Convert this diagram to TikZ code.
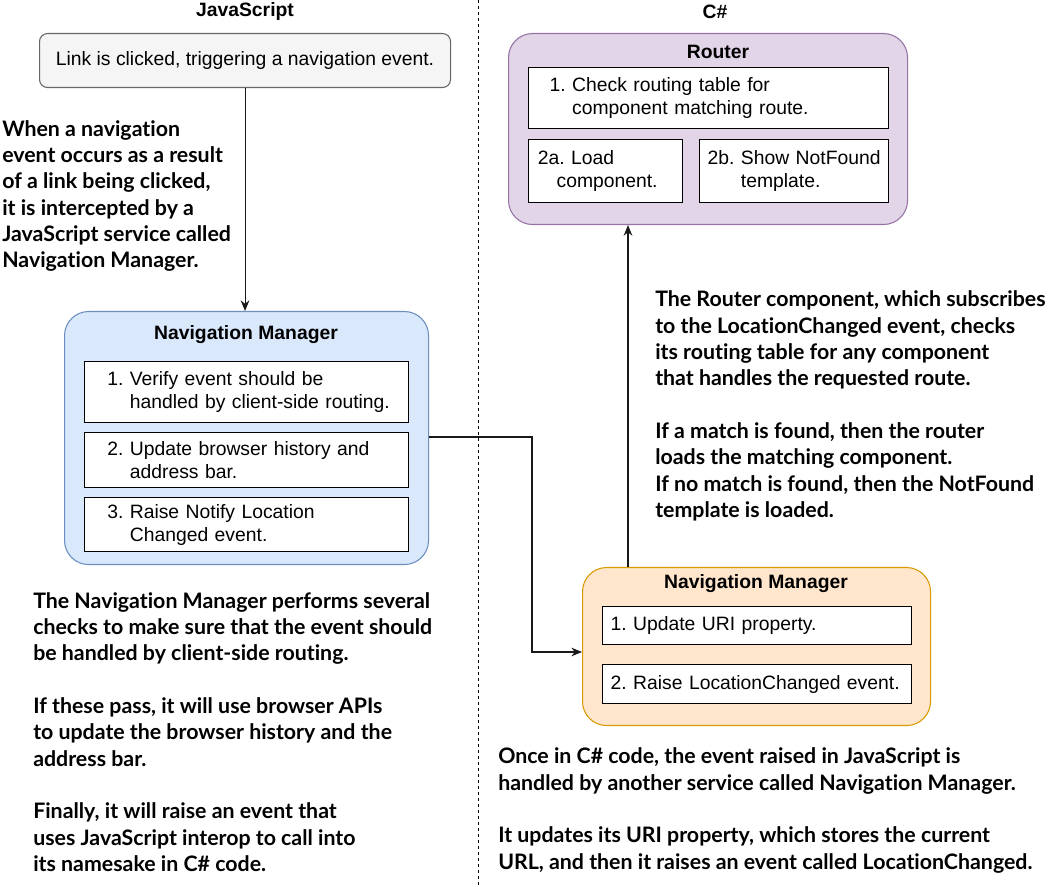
\documentclass[tikz,border=0pt]{standalone}
\usepackage{fontspec}
\setmainfont{Liberation Sans}
\newfontfamily\notefont[Ligatures=NoCommon]{Lato}
\usepackage{tikz}
\usetikzlibrary{arrows.meta}
\usetikzlibrary{positioning}
\definecolor{nm-link}{HTML}{F5F5F5}
\definecolor{nm-link-line}{HTML}{666666}
\definecolor{nm-blue}{HTML}{DAE8FC}
\definecolor{nm-blue-line}{HTML}{6C8EBF}
\definecolor{nm-orange}{HTML}{FFE6CC}
\definecolor{nm-orange-line}{HTML}{D79B00}
\definecolor{nm-purple}{HTML}{E1D5E7}
\definecolor{nm-purple-line}{HTML}{9673A6}
\newcommand{\itemfont}{\frenchspacing\hyphenpenalty=10000\fontsize{14.5}{17.25}\selectfont}
\newcommand{\notesize}{\frenchspacing\notefont\bfseries\fontsize{16}{19.75}\selectfont}

\begin{document}
\begin{tikzpicture}[x=0.75pt, y=-0.75pt, >={Stealth[length=8pt,width=6.5pt]},
    lane/.style={font=\itemfont\bfseries, inner sep=0pt},
    paneltitle/.style={font=\itemfont\bfseries, inner sep=0pt},
    panel/.style={rounded corners=18pt, line width=0.8pt, anchor=north west},
    item/.style={draw=black, fill=white, line width=0.9pt, align=left, font=\itemfont,
        anchor=north west, inner ysep=0pt},
    note/.style={font=\notesize, align=left, anchor=west, inner sep=0pt},
    conn/.style={draw=black!90, line width=0.8pt},
    divider/.style={draw=black, line width=0.75pt, dash pattern=on 2.5pt off 2pt}]
    \path[use as bounding box, fill=white] (0,0) rectangle (1054,887);

    % Lanes
    \node[lane] (jslane) at (245,12) {JavaScript};
    \node[lane] (cslane) at (715,12) {C\#};
    \coordinate (divtop) at (478,0);
    \coordinate (divbot) at (478,887);
    \draw[divider] (divtop) -- (divbot);

    % Link clicked
    \node[draw=nm-link-line, fill=nm-link, rounded corners=6pt, line width=0.8pt, font=\itemfont,
        anchor=north west, minimum width=308.25pt, minimum height=40.5pt] (link) at (39,33)
        {Link is clicked, triggering a navigation event.};

    % Navigation Manager (JavaScript)
    \node[panel, draw=nm-blue-line, fill=nm-blue, minimum width=273pt, minimum height=189.75pt] (jsmgr) at (64,311) {};
    \node[paneltitle] (jsmgrtitle) at (246,335) {Navigation Manager};
    \node[item, text width=217pt, inner xsep=13pt, minimum height=45.75pt] (jsverify) at (84,361)
        {\hspace{4pt}1. Verify event should be\\\hspace{4pt}\hphantom{1.\ }handled by client-side routing.};
    \node[item, text width=217pt, inner xsep=13pt, minimum height=41.25pt] (jshistory) at (84,432)
        {\hspace{4pt}2. Update browser history and\\\hspace{4pt}\hphantom{2.\ }address bar.};
    \node[item, text width=217pt, inner xsep=13pt, minimum height=40.5pt] (jsraise) at (84,497)
        {\hspace{4pt}3. Raise Notify Location\\\hspace{4pt}\hphantom{3.\ }Changed event.};

    % Router (C#)
    \node[panel, draw=nm-purple-line, fill=nm-purple, minimum width=299.25pt, minimum height=143.25pt] (router) at (508,33) {};
    \node[paneltitle] (routertitle) at (718,52) {Router};
    \node[item, text width=238.5pt, inner xsep=15.75pt, minimum height=45.75pt] (rcheck) at (528,67)
        {1. Check routing table for\\\hphantom{1.\ }component matching route.};
    \node[item, text width=105.5pt, inner xsep=5pt, minimum height=47.25pt] (rload) at (528,139)
        {\hspace{2pt}2a. Load\\\hspace{16pt}component.};
    \node[item, text width=133.75pt, inner xsep=4pt, minimum height=47.25pt] (rnotfound) at (699,139)
        {\hspace{2pt}2b. Show NotFound\\\hspace{2pt}\hphantom{2b.\ }template.};

    % Navigation Manager (C#)
    \node[panel, draw=nm-orange-line, fill=nm-orange, minimum width=261pt, minimum height=118.5pt] (omgr) at (582,567) {};
    \node[paneltitle] (omgrtitle) at (756,584) {Navigation Manager};
    \node[item, text width=219.75pt, inner xsep=6pt, minimum height=28.5pt] (ouri) at (602,606)
        {1. Update URI property.};
    \node[item, text width=219.75pt, inner xsep=6pt, minimum height=29.25pt] (oraise) at (602,664)
        {2. Raise LocationChanged event.};

    % Connectors
    \draw[conn, ->] (link.south) -- (link.south |- jsmgr.north);
    \coordinate (elbowtop) at (532,437);
    \coordinate (elbowbot) at (532,652);
    \draw[conn, ->] (jsmgr.east |- elbowtop) -- (elbowtop) -- (elbowbot) -- (elbowbot -| omgr.west);
    \coordinate (upline) at (628,0);
    \draw[conn, ->] (omgr.north -| upline) -- (router.south -| upline);

    % Notes
    \node[note] (noteclick) at (2,196)
        {When a navigation\\event occurs as a result\\of a link being clicked,\\it is intercepted by a\\JavaScript service called\\Navigation Manager.};
    \node[note] (noterouter) at (655,406)
        {The Router component, which subscribes\\to the LocationChanged event, checks\\its routing table for any component\\that handles the requested route.\\[19.75pt]If a match is found, then the router\\loads the matching component.\\If no match is found, then the NotFound\\template is loaded.};
    \node[note] (notechecks) at (33,732)
        {The Navigation Manager performs several\\checks to make sure that the event should\\be handled by client-side routing.\\[19.75pt]If these pass, it will use browser APIs\\to update the browser history and the\\address bar.\\[19.75pt]Finally, it will raise an event that\\uses JavaScript interop to call into\\its namesake in C\# code.};
    \node[note] (noteuri) at (498,810.5)
        {Once in C\# code, the event raised in JavaScript is\\handled by another service called Navigation Manager.\\[19.75pt]It updates its URI property, which stores the current\\URL, and then it raises an event called LocationChanged.};
\end{tikzpicture}
\end{document}
